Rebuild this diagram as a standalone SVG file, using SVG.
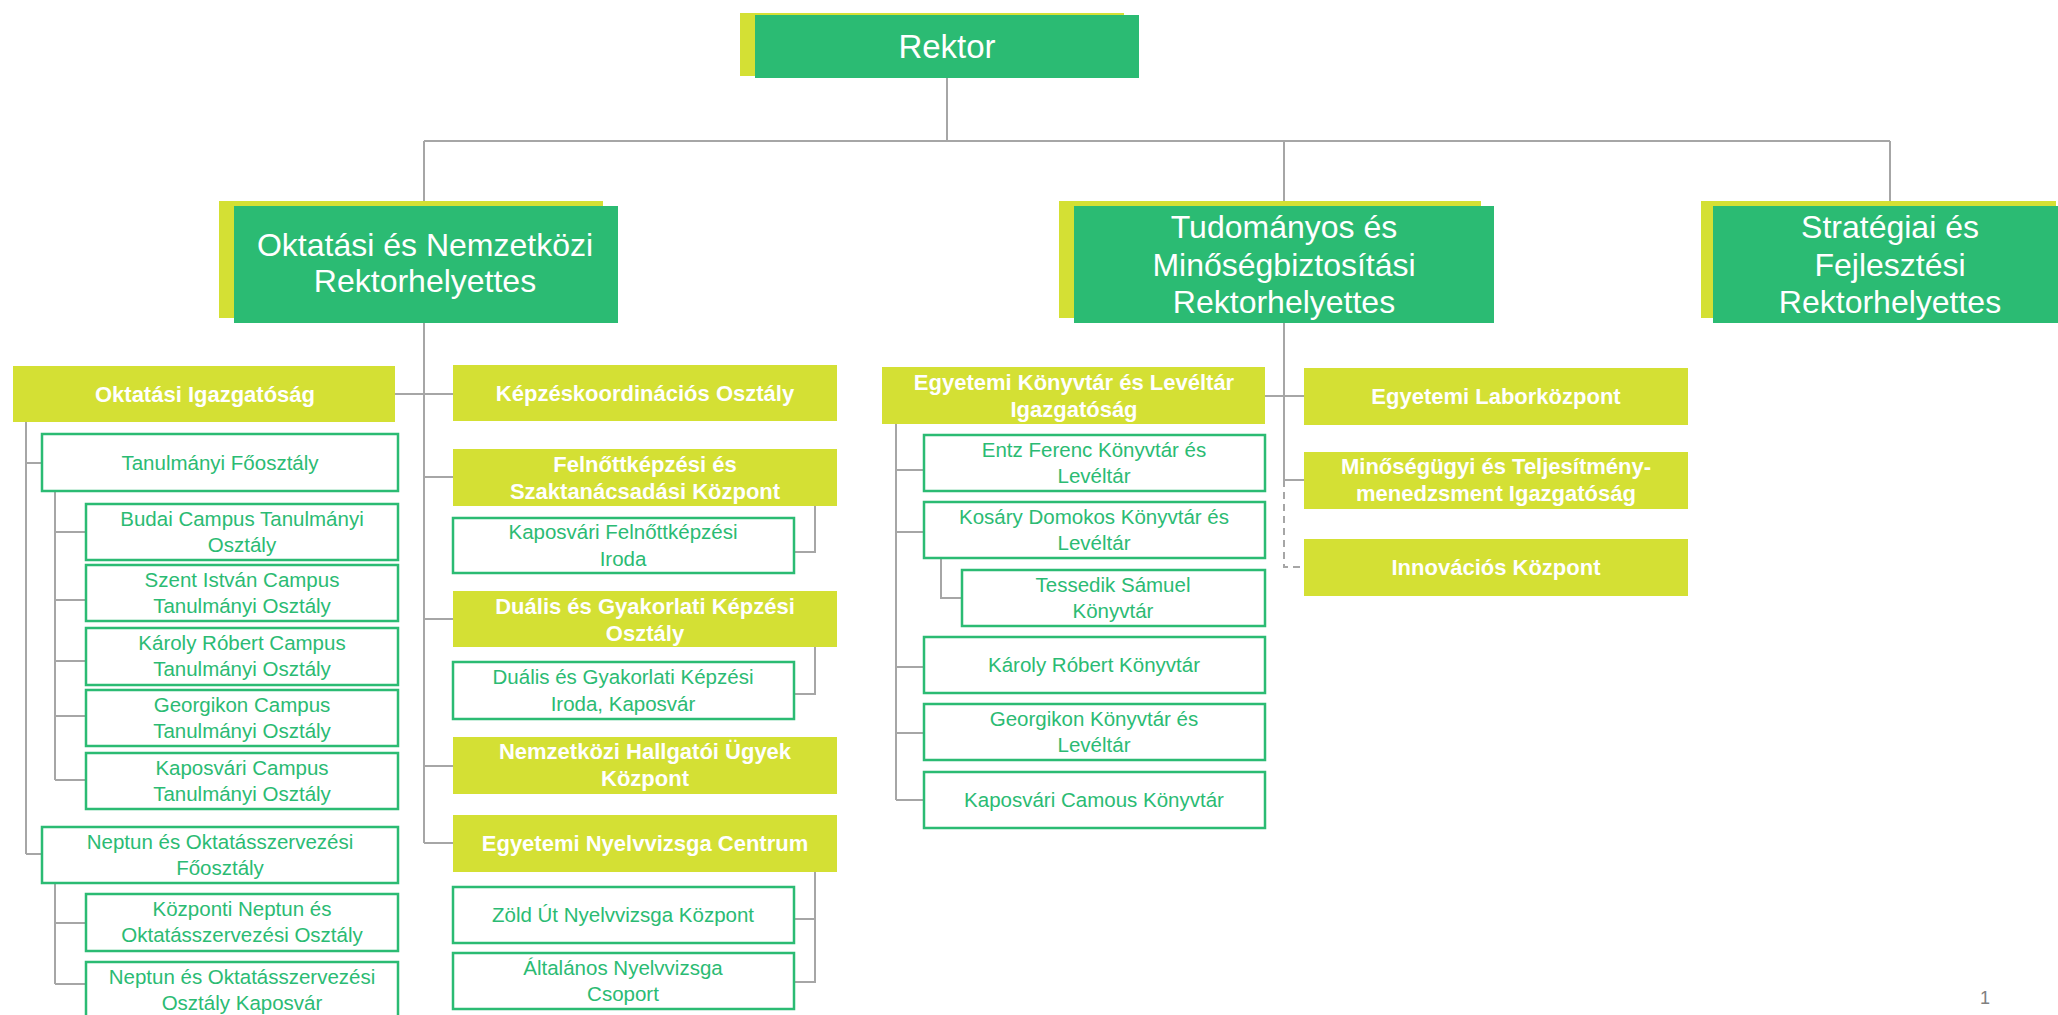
<svg xmlns="http://www.w3.org/2000/svg" width="2058" height="1015" viewBox="0 0 2058 1015">
<style>
.bg{fill:#ffffff}
.sh{fill:#D4E034}
.hd{fill:#2BBB73}
.yl{fill:#D4E034}
.wb{fill:#ffffff;stroke:#2BBB73;stroke-width:2.5}
.th{font-family:"Liberation Sans",Arial,sans-serif;font-size:32px;fill:#ffffff;text-anchor:middle}
.tb{font-family:"Liberation Sans",Arial,sans-serif;font-size:22px;font-weight:bold;fill:#ffffff;text-anchor:middle}
.tg{font-family:"Liberation Sans",Arial,sans-serif;font-size:20.5px;fill:#2BBB73;text-anchor:middle}
.ln{fill:none;stroke:#A6A6A6;stroke-width:2}
.dl{fill:none;stroke:#A6A6A6;stroke-width:2;stroke-dasharray:7 5}
.pg{font-family:"Liberation Sans",Arial,sans-serif;font-size:18px;fill:#808080;text-anchor:middle}
</style>
<rect class="bg" x="0" y="0" width="2058" height="1015"/>

<g id="connectors">
<path class="ln" d="M947 78V141M424 141H1890M424 141V206M1284 141V206M1890 141V206"/>
<path class="ln" d="M424 320V843M395 394H453M424 477H453M424 619H453M424 766H453M424 843H453"/>
<path class="ln" d="M815 506V552H794M815 647V694H794M815 872V982H794M815 919H794"/>
<path class="ln" d="M26 421V854M26 463H42M26 854H42"/>
<path class="ln" d="M55 491V780M55 532H86M55 600H86M55 661H86M55 716H86M55 780H86"/>
<path class="ln" d="M55 883V984M55 923H86M55 984H86"/>
<path class="ln" d="M1284 323V480M1265 396H1304M1284 480H1304"/>
<path class="dl" d="M1284 480V567H1304"/>
<path class="ln" d="M896 424V800M896 470H924M896 532H924M896 667H924M896 733H924M896 800H924"/>
<path class="ln" d="M941 558V598H962"/>
</g>

<g id="rektor">
<rect class="sh" x="740" y="13" width="384" height="63"/>
<rect class="hd" x="755" y="15" width="384" height="63"/>
<text class="th" x="947" y="58" style="font-size:33px">Rektor</text>
</g>

<g id="oktatasi-rh">
<rect class="sh" x="219" y="201" width="384" height="117"/>
<rect class="hd" x="234" y="206" width="384" height="117"/>
<text class="th" x="425" y="256">Oktatási és Nemzetközi</text>
<text class="th" x="425" y="292">Rektorhelyettes</text>
</g>

<g id="tudomanyos-rh">
<rect class="sh" x="1059" y="201" width="422" height="117"/>
<rect class="hd" x="1074" y="206" width="420" height="117"/>
<text class="th" x="1284" y="238">Tudományos és</text>
<text class="th" x="1284" y="276">Minőségbiztosítási</text>
<text class="th" x="1284" y="313">Rektorhelyettes</text>
</g>

<g id="strategiai-rh">
<rect class="sh" x="1701" y="201" width="355" height="117"/>
<rect class="hd" x="1713" y="206" width="360" height="117"/>
<text class="th" x="1890" y="238">Stratégiai és</text>
<text class="th" x="1890" y="276">Fejlesztési</text>
<text class="th" x="1890" y="313">Rektorhelyettes</text>
</g>

<g id="oktatasi-igazgatosag">
<rect class="yl" x="13" y="366" width="382" height="56"/>
<text class="tb" x="205" y="402">Oktatási Igazgatóság</text>
</g>

<g id="tanulmanyi-foosztaly">
<rect class="wb" x="42" y="434" width="356" height="57"/>
<text class="tg" x="220" y="470">Tanulmányi Főosztály</text>
</g>
<g id="budai">
<rect class="wb" x="86" y="504" width="312" height="56"/>
<text class="tg" x="242" y="526">Budai Campus Tanulmányi</text>
<text class="tg" x="242" y="552">Osztály</text>
</g>
<g id="szent-istvan">
<rect class="wb" x="86" y="565" width="312" height="56"/>
<text class="tg" x="242" y="587">Szent István Campus</text>
<text class="tg" x="242" y="613">Tanulmányi Osztály</text>
</g>
<g id="karoly-robert">
<rect class="wb" x="86" y="628" width="312" height="57"/>
<text class="tg" x="242" y="650">Károly Róbert Campus</text>
<text class="tg" x="242" y="676">Tanulmányi Osztály</text>
</g>
<g id="georgikon">
<rect class="wb" x="86" y="690" width="312" height="56"/>
<text class="tg" x="242" y="712">Georgikon Campus</text>
<text class="tg" x="242" y="738">Tanulmányi Osztály</text>
</g>
<g id="kaposvari-campus">
<rect class="wb" x="86" y="753" width="312" height="56"/>
<text class="tg" x="242" y="775">Kaposvári Campus</text>
<text class="tg" x="242" y="801">Tanulmányi Osztály</text>
</g>
<g id="neptun-foosztaly">
<rect class="wb" x="42" y="827" width="356" height="56"/>
<text class="tg" x="220" y="849">Neptun és Oktatásszervezési</text>
<text class="tg" x="220" y="875">Főosztály</text>
</g>
<g id="kozponti-neptun">
<rect class="wb" x="86" y="894" width="312" height="57"/>
<text class="tg" x="242" y="916">Központi Neptun és</text>
<text class="tg" x="242" y="942">Oktatásszervezési Osztály</text>
</g>
<g id="neptun-kaposvar">
<rect class="wb" x="86" y="962" width="312" height="56"/>
<text class="tg" x="242" y="984">Neptun és Oktatásszervezési</text>
<text class="tg" x="242" y="1010">Osztály Kaposvár</text>
</g>

<g id="kepzeskoordinacios">
<rect class="yl" x="453" y="365" width="384" height="56"/>
<text class="tb" x="645" y="401">Képzéskoordinációs Osztály</text>
</g>
<g id="felnottkepzesi">
<rect class="yl" x="453" y="449" width="384" height="57"/>
<text class="tb" x="645" y="472">Felnőttképzési és</text>
<text class="tb" x="645" y="499">Szaktanácsadási Központ</text>
</g>
<g id="kaposvari-felnottkepzesi">
<rect class="wb" x="453" y="518" width="341" height="55"/>
<text class="tg" x="623" y="539">Kaposvári Felnőttképzési</text>
<text class="tg" x="623" y="566">Iroda</text>
</g>
<g id="dualis">
<rect class="yl" x="453" y="591" width="384" height="56"/>
<text class="tb" x="645" y="614">Duális és Gyakorlati Képzési</text>
<text class="tb" x="645" y="641">Osztály</text>
</g>
<g id="dualis-iroda">
<rect class="wb" x="453" y="662" width="341" height="57"/>
<text class="tg" x="623" y="684">Duális és Gyakorlati Képzési</text>
<text class="tg" x="623" y="711">Iroda, Kaposvár</text>
</g>
<g id="nemzetkozi-hallgatoi">
<rect class="yl" x="453" y="737" width="384" height="57"/>
<text class="tb" x="645" y="759">Nemzetközi Hallgatói Ügyek</text>
<text class="tb" x="645" y="786">Központ</text>
</g>
<g id="nyelvvizsga-centrum">
<rect class="yl" x="453" y="815" width="384" height="57"/>
<text class="tb" x="645" y="851">Egyetemi Nyelvvizsga Centrum</text>
</g>
<g id="zold-ut">
<rect class="wb" x="453" y="887" width="341" height="56"/>
<text class="tg" x="623" y="922">Zöld Út Nyelvvizsga Központ</text>
</g>
<g id="altalanos-nyelvvizsga">
<rect class="wb" x="453" y="953" width="341" height="56"/>
<text class="tg" x="623" y="975">Általános Nyelvvizsga</text>
<text class="tg" x="623" y="1001">Csoport</text>
</g>

<g id="konyvtar-igazgatosag">
<rect class="yl" x="882" y="367" width="383" height="57"/>
<text class="tb" x="1074" y="390">Egyetemi Könyvtár és Levéltár</text>
<text class="tb" x="1074" y="417">Igazgatóság</text>
</g>
<g id="entz">
<rect class="wb" x="924" y="435" width="341" height="56"/>
<text class="tg" x="1094" y="457">Entz Ferenc Könyvtár és</text>
<text class="tg" x="1094" y="483">Levéltár</text>
</g>
<g id="kosary">
<rect class="wb" x="924" y="502" width="341" height="56"/>
<text class="tg" x="1094" y="524">Kosáry Domokos Könyvtár és</text>
<text class="tg" x="1094" y="550">Levéltár</text>
</g>
<g id="tessedik">
<rect class="wb" x="962" y="570" width="303" height="56"/>
<text class="tg" x="1113" y="592">Tessedik Sámuel</text>
<text class="tg" x="1113" y="618">Könyvtár</text>
</g>
<g id="karoly-robert-konyvtar">
<rect class="wb" x="924" y="637" width="341" height="56"/>
<text class="tg" x="1094" y="672">Károly Róbert Könyvtár</text>
</g>
<g id="georgikon-konyvtar">
<rect class="wb" x="924" y="704" width="341" height="56"/>
<text class="tg" x="1094" y="726">Georgikon Könyvtár és</text>
<text class="tg" x="1094" y="752">Levéltár</text>
</g>
<g id="kaposvari-konyvtar">
<rect class="wb" x="924" y="772" width="341" height="56"/>
<text class="tg" x="1094" y="807">Kaposvári Camous Könyvtár</text>
</g>

<g id="laborkozpont">
<rect class="yl" x="1304" y="368" width="384" height="57"/>
<text class="tb" x="1496" y="404">Egyetemi Laborközpont</text>
</g>
<g id="minosegugyi">
<rect class="yl" x="1304" y="452" width="384" height="57"/>
<text class="tb" x="1496" y="474">Minőségügyi és Teljesítmény-</text>
<text class="tb" x="1496" y="501">menedzsment Igazgatóság</text>
</g>
<g id="innovacios">
<rect class="yl" x="1304" y="539" width="384" height="57"/>
<text class="tb" x="1496" y="575">Innovációs Központ</text>
</g>

<text class="pg" x="1985" y="1004">1</text>
</svg>
